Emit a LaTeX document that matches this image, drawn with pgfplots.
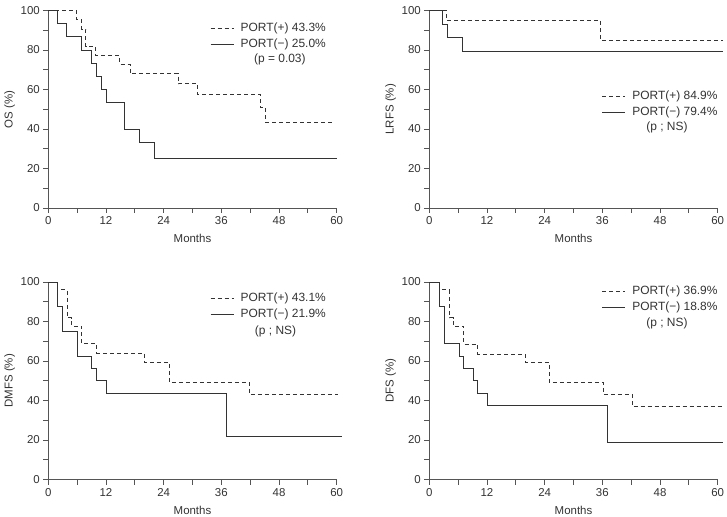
\documentclass[border=0pt]{standalone}
\usepackage{fontspec}
\setmainfont{Liberation Sans}
\usepackage{pgfplots}
\pgfplotsset{compat=1.18}
\definecolor{ink}{HTML}{333333}
\definecolor{axc}{HTML}{555555}
\pgfplotsset{
  km/.style={
    scale only axis, width=288.4bp, height=197.5bp,
    anchor=south west,
    xmin=0, xmax=60, ymin=0, ymax=100,
    axis lines=left, axis line style={-, axc, line width=0.9bp},
    xtick={0,12,24,36,48,60}, minor xtick={6,18,30,42,54},
    ytick={0,20,40,60,80,100}, minor ytick={10,30,50,70,90},
    tick align=outside, major tick length=5bp, minor tick length=5bp,
    tick style={axc, line width=0.8bp},
    every tick label/.append style={font=\fontsize{11.5}{13}\selectfont, text=ink},
    /pgf/number format/assume math mode=true,
    xlabel={Months}, xlabel style={font=\fontsize{11.5}{13}\selectfont, text=ink, at={(axis description cs:0.5,-0.155)}, anchor=center},
    ylabel style={font=\fontsize{11.5}{13}\selectfont, text=ink, at={(axis description cs:-0.134,0.5)}, anchor=center},
    clip=false,
    legend cell align=left,
    legend image code/.code={\draw[#1] (0bp,0bp) -- (23bp,0bp); \path (28bp,0bp);},
    legend style={draw=none, fill=none, inner sep=0pt, anchor=north west,
      font=\fontsize{12}{14}\selectfont, text=ink,
      nodes={inner sep=1.5bp, text height=9bp, text depth=3bp},
      row sep=1bp},
  },
  pplus/.style={const plot, ink, line width=0.9bp, dash pattern=on 4bp off 3bp},
  pminus/.style={const plot, ink, line width=0.9bp},
}
\begin{document}
\begin{tikzpicture}
\path[use as bounding box] (0bp,0bp) rectangle (727bp,517bp);
% Panel 1: OS
\begin{axis}[km, at={(48.3bp,309bp)}, ylabel={OS (\%)},
  legend style={at={(rel axis cs:0.561,0.95)}}]
\addplot[pplus] coordinates {(0,100) (5.9,95.3) (6.9,90.6) (7.8,81.8) (9.9,77.3) (14.9,72.8) (17.0,68.1) (27.0,62.9) (31.0,57.5) (44.2,50.9) (45.2,43.3) (59.1,43.3)};
\addlegendentry{PORT(+) 43.3\%}
\addplot[pminus] coordinates {(0,100) (1.9,93.3) (3.8,86.7) (7.0,80.0) (9.0,73.3) (10.1,66.7) (11.0,60.0) (12.0,53.3) (15.9,40.0) (19.0,33.3) (22.0,25.0) (60,25.0)};
\addlegendentry{PORT(−) 25.0\%}
\node[font=\fontsize{12}{14}\selectfont, text=ink] at (rel axis cs:0.803,0.75) {(p = 0.03)};
\end{axis}
% Panel 2: LRFS
\begin{axis}[km, at={(429.3bp,309bp)}, ylabel={LRFS (\%)},
  legend style={at={(rel axis cs:0.598,0.605)}}]
\addplot[pplus] coordinates {(0,100) (3.6,95.0) (35.7,84.9) (61.2,84.9)};
\addlegendentry{PORT(+) 84.9\%}
\addplot[pminus] coordinates {(0,100) (2.8,92.9) (3.7,86.2) (6.9,79.4) (61.2,79.4)};
\addlegendentry{PORT(−) 79.4\%}
\node[font=\fontsize{12}{14}\selectfont, text=ink] at (rel axis cs:0.824,0.41) {(p ; NS)};
\end{axis}
% Panel 3: DMFS
\begin{axis}[km, at={(48.3bp,37.5bp)}, ylabel={DMFS (\%)},
  legend style={at={(rel axis cs:0.561,0.955)}}]
\addplot[pplus] coordinates {(0,100) (1.9,96.0) (4.0,81.8) (4.9,77.5) (7.0,68.7) (10.1,63.9) (20.0,59.3) (25.2,49.2) (41.9,43.1) (60.3,43.1)};
\addlegendentry{PORT(+) 43.1\%}
\addplot[pminus] coordinates {(0,100) (1.9,87.5) (2.9,75.0) (6.0,62.5) (9.0,56.3) (10.1,50.0) (12.1,43.8) (37.0,21.9) (61.0,21.9)};
\addlegendentry{PORT(−) 21.9\%}
\node[font=\fontsize{12}{14}\selectfont, text=ink] at (rel axis cs:0.788,0.751) {(p ; NS)};
\end{axis}
% Panel 4: DFS
\begin{axis}[km, at={(429.3bp,37.5bp)}, ylabel={DFS (\%)},
  legend style={at={(rel axis cs:0.598,0.99)}}]
\addplot[pplus] coordinates {(0,100) (2.2,96.0) (4.2,81.8) (5.0,77.5) (7.2,68.2) (10.1,63.5) (20.0,59.3) (25.0,49.2) (36.2,43.1) (42.2,36.9) (61.2,36.9)};
\addlegendentry{PORT(+) 36.9\%}
\addplot[pminus] coordinates {(0,100) (2.2,87.5) (3.1,68.8) (6.2,62.5) (7.1,56.3) (9.2,50.0) (10.1,43.8) (12.1,37.5) (37.0,18.8) (61.2,18.8)};
\addlegendentry{PORT(−) 18.8\%}
\node[font=\fontsize{12}{14}\selectfont, text=ink] at (rel axis cs:0.824,0.79) {(p ; NS)};
\end{axis}
\end{tikzpicture}
\end{document}
